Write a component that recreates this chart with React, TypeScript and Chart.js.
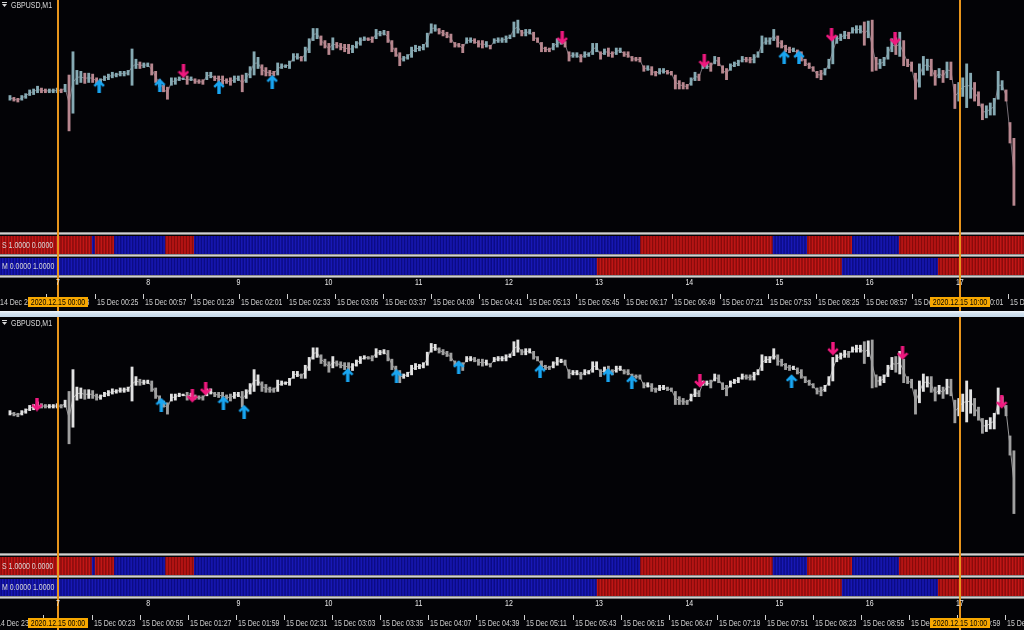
import React, { useEffect, useRef } from 'react';
import { Chart, registerables } from 'chart.js';

Chart.register(...registerables);

// ---------------- data ----------------
const SYMBOL = 'GBPUSD,M1';
const S_LABEL = 'S 1.0000 0.0000';
const M_LABEL = 'M 0.0000 1.0000';

// minutes relative to 2020.12.15 00:00
const VIEW_START = -38.6;
const VIEW_END = 642.7;
const GROUP_START = -37.26; // first aggregated candle
const GROUP_STEP = 2.661; // minutes per drawn candle

const HIGHS = [
  156, 154, 153, 156, 158, 162, 163, 166, 164, 163, 163, 163, 164, 163, 168, 178, 203, 183, 182, 180,
  180, 179, 175, 174, 177, 179, 181, 180, 182, 182, 183, 206, 195, 192, 191, 191, 190, 182, 173, 167,
  165, 175, 175, 176, 175, 177, 176, 174, 173, 173, 181, 181, 177, 177, 177, 174, 175, 177, 177, 178,
  180, 187, 203, 197, 189, 186, 183, 182, 191, 190, 189, 193, 201, 201, 198, 208, 217, 228, 228, 220,
  215, 212, 218, 213, 212, 211, 211, 210, 214, 218, 219, 218, 219, 227, 225, 226, 225, 215, 207, 202,
  198, 200, 208, 210, 209, 211, 223, 233, 232, 228, 226, 224, 222, 213, 212, 211, 218, 218, 217, 215,
  215, 214, 210, 217, 218, 218, 220, 221, 235, 237, 226, 227, 227, 224, 218, 213, 208, 207, 212, 217,
  215, 214, 203, 202, 202, 200, 203, 202, 212, 212, 203, 206, 207, 203, 207, 207, 203, 203, 198, 197,
  197, 188, 188, 187, 182, 185, 185, 183, 182, 178, 172, 170, 168, 175, 181, 179, 190, 190, 191, 198,
  197, 188, 185, 190, 192, 194, 198, 197, 197, 200, 203, 220, 218, 218, 227, 220, 215, 210, 208, 207,
  205, 203, 195, 191, 187, 182, 183, 185, 195, 217, 220, 222, 225, 224, 229, 231, 231, 235, 236, 237,
  197, 195, 197, 208, 217, 218, 224, 215, 195, 192, 180, 190, 198, 195, 195, 183, 185, 183, 192, 192,
  168, 170, 175, 190, 180, 170, 160, 147, 145, 148, 153, 182, 172, 162, 127, 110,
];
const LOWS = [
  151, 150, 149, 151, 153, 156, 157, 159, 159, 159, 159, 159, 159, 159, 160, 118, 137, 168, 170, 169,
  170, 170, 168, 169, 172, 173, 175, 176, 177, 177, 178, 167, 185, 185, 186, 187, 178, 170, 165, 160,
  152, 167, 168, 172, 173, 168, 172, 169, 169, 168, 173, 175, 172, 171, 168, 169, 167, 170, 172, 160,
  170, 175, 178, 185, 178, 177, 177, 177, 178, 185, 186, 185, 193, 195, 193, 193, 202, 215, 217, 210,
  207, 200, 205, 207, 205, 203, 201, 202, 207, 210, 215, 215, 213, 217, 220, 221, 213, 203, 198, 188,
  193, 195, 197, 203, 204, 205, 208, 223, 225, 222, 220, 218, 213, 208, 208, 202, 212, 213, 212, 208,
  207, 208, 206, 212, 213, 213, 213, 217, 219, 223, 220, 220, 222, 215, 213, 203, 203, 203, 205, 208,
  211, 208, 193, 197, 197, 192, 197, 198, 200, 203, 195, 200, 198, 197, 200, 202, 198, 197, 193, 193,
  192, 182, 183, 178, 177, 179, 180, 179, 178, 163, 163, 163, 163, 167, 172, 172, 185, 185, 182, 190,
  188, 180, 173, 183, 187, 188, 192, 192, 191, 191, 197, 202, 211, 211, 215, 208, 207, 203, 202, 203,
  198, 193, 188, 185, 182, 175, 173, 178, 185, 190, 212, 215, 217, 217, 223, 223, 223, 210, 218, 182,
  183, 185, 188, 195, 203, 200, 198, 188, 187, 182, 152, 165, 178, 183, 177, 167, 175, 170, 175, 173,
  142, 150, 155, 143, 153, 150, 145, 130, 132, 135, 135, 152, 162, 150, 105, 38,
];

const HOUR_MARKS = [0, 60, 120, 180, 240, 300, 360, 420, 480, 540, 600];
const HOUR_LABELS = ['7', '8', '9', '10', '11', '12', '13', '14', '15', '16', '17'];

// indicator states: 1 = red, 0 = blue
const S_SEGMENT_STARTS = [-39, 23, 25, 38, 72, 91, 388, 476, 499, 529, 560];
const S_SEGMENT_STATES = [1, 0, 1, 0, 1, 0, 1, 0, 1, 0, 1];
const M_SEGMENT_STARTS = [-39, 359, 522, 586];
const M_SEGMENT_STATES = [0, 1, 0, 1];

const MARKED_TIMES = [0, 600];
const MARKED_LABELS = ['2020.12.15 00:00', '2020.12.15 10:00'];

const TOP_TIME_LABELS = [
  '14 Dec 23:21', '14 Dec 23:53', '15 Dec 00:25', '15 Dec 00:57', '15 Dec 01:29', '15 Dec 02:01',
  '15 Dec 02:33', '15 Dec 03:05', '15 Dec 03:37', '15 Dec 04:09', '15 Dec 04:41', '15 Dec 05:13',
  '15 Dec 05:45', '15 Dec 06:17', '15 Dec 06:49', '15 Dec 07:21', '15 Dec 07:53', '15 Dec 08:25',
  '15 Dec 08:57', '15 Dec 09:29', '15 Dec 10:01', '15 Dec 10:33',
];
const BOTTOM_TIME_LABELS = [
  '14 Dec 23:19', '14 Dec 23:51', '15 Dec 00:23', '15 Dec 00:55', '15 Dec 01:27', '15 Dec 01:59',
  '15 Dec 02:31', '15 Dec 03:03', '15 Dec 03:35', '15 Dec 04:07', '15 Dec 04:39', '15 Dec 05:11',
  '15 Dec 05:43', '15 Dec 06:15', '15 Dec 06:47', '15 Dec 07:19', '15 Dec 07:51', '15 Dec 08:23',
  '15 Dec 08:55', '15 Dec 09:27', '15 Dec 09:59', '15 Dec 10:31',
];

const TOP_UP_TIMES = [23, 64, 104, 140, 486, 496];
const TOP_UP_PRICES = [166, 167, 165, 171, 197, 197];
const TOP_DOWN_TIMES = [80, 336, 432, 518, 561];
const TOP_DOWN_PRICES = [182, 218, 193, 221, 217];
const BOTTOM_UP_TIMES = [65, 107, 121, 191, 224, 266, 321, 367, 383, 491];
const BOTTOM_UP_PRICES = [163, 165, 155, 197, 196, 206, 201, 197, 189, 190];
const BOTTOM_DOWN_TIMES = [-19, 86, 95, 429, 519, 566, 633];
const BOTTOM_DOWN_PRICES = [163, 173, 181, 190, 227, 222, 166];

// ---------------- styling ----------------
const W = 1024;
const BG = '#030306';
const TEXT = '#d8d8d8';
const ORANGE = '#e8951c';
const ORANGE_BOX = '#f8a800';
const FONT = '8.5px "Liberation Sans", Arial, sans-serif';
const NARROW = 0.82;

const TOP_PANEL = {
  y0: 0, height: 311, priceTop: 0, priceH: 232, lower: 232, symbolY: 5,
  yMin: 18, yMax: 250, up: '#86aab3', down: '#b8878f', line: 'rgba(160,150,160,0.75)',
  upTimes: TOP_UP_TIMES, upPrices: TOP_UP_PRICES, downTimes: TOP_DOWN_TIMES, downPrices: TOP_DOWN_PRICES,
  timeLabels: TOP_TIME_LABELS,
};
const BOTTOM_PANEL = {
  y0: 317, height: 313, priceTop: 1, priceH: 235, lower: 236, symbolY: 6,
  yMin: 2, yMax: 253, up: '#e2e2e2', down: '#a0a0a0', line: 'rgba(200,200,200,0.75)',
  upTimes: BOTTOM_UP_TIMES, upPrices: BOTTOM_UP_PRICES, downTimes: BOTTOM_DOWN_TIMES, downPrices: BOTTOM_DOWN_PRICES,
  timeLabels: BOTTOM_TIME_LABELS,
};

function labelMinute(lbl: string) {
  const [d, , hm] = lbl.split(' ');
  const [h, m] = hm.split(':').map(Number);
  return (Number(d) - 15) * 1440 + h * 60 + m;
}

function makeArrow(color: string, up: boolean) {
  const c = document.createElement('canvas');
  c.width = 12;
  c.height = 14;
  const g = c.getContext('2d') as CanvasRenderingContext2D;
  if (!up) {
    g.translate(0, 14);
    g.scale(1, -1);
  }
  g.fillStyle = color;
  g.beginPath();
  g.moveTo(6, 0.3);
  g.lineTo(11.7, 6);
  g.lineTo(9.9, 7.8);
  g.lineTo(7.7, 5.6);
  g.lineTo(7.7, 14);
  g.lineTo(4.3, 14);
  g.lineTo(4.3, 5.6);
  g.lineTo(2.1, 7.8);
  g.lineTo(0.3, 6);
  g.closePath();
  g.fill();
  return c;
}

function baseOptions(yMin: number, yMax: number, plugins: any = {}) {
  return {
    responsive: false,
    maintainAspectRatio: false,
    animation: false,
    events: [],
    layout: { padding: 0 },
    plugins: { legend: { display: false }, tooltip: { enabled: false }, ...plugins },
    scales: {
      x: { type: 'linear', min: VIEW_START, max: VIEW_END, display: false, offset: false, grid: { offset: false } },
      y: { type: 'linear', min: yMin, max: yMax, display: false },
    },
  };
}

function priceConfig(c: any) {
  const mids = HIGHS.map((h, i) => (h + LOWS[i]) / 2);
  const colors = mids.map((m, i) => (i === 0 || m >= mids[i - 1] ? c.up : c.down));
  const upImg = makeArrow('#19a6f2', true);
  const downImg = makeArrow('#f0197f', false);
  const times = HIGHS.map((_, i) => GROUP_START + i * GROUP_STEP);
  return {
    type: 'bar',
    data: {
      datasets: [
        {
          type: 'line',
          data: mids.map((m, i) => ({ x: times[i], y: m })),
          borderColor: c.line,
          borderWidth: 1,
          pointRadius: 0,
          tension: 0,
          order: 4,
        },
        {
          type: 'bar',
          data: HIGHS.map((h, i) => ({ x: times[i], y: [LOWS[i], h] })),
          backgroundColor: colors,
          borderWidth: 0,
          barThickness: 2.2,
          grouped: false,
          order: 3,
        },
        {
          type: 'scatter',
          data: c.upTimes.map((t: number, i: number) => ({ x: t, y: c.upPrices[i] })),
          pointStyle: upImg,
          pointRadius: 7,
          order: 1,
        },
        {
          type: 'scatter',
          data: c.downTimes.map((t: number, i: number) => ({ x: t, y: c.downPrices[i] })),
          pointStyle: downImg,
          pointRadius: 7,
          order: 2,
        },
      ],
    },
    options: baseOptions(c.yMin, c.yMax),
  };
}

function stateAt(starts: number[], states: number[], m: number) {
  let s = states[0];
  for (let i = 0; i < starts.length; i++) if (m >= starts[i]) s = states[i];
  return s;
}

function stripConfig(starts: number[], states: number[]) {
  const minutes: number[] = [];
  for (let m = Math.ceil(VIEW_START); m <= Math.floor(VIEW_END); m++) minutes.push(m);
  const st = minutes.map((m) => stateAt(starts, states, m));
  return {
    type: 'bar',
    data: {
      datasets: [
        {
          data: minutes.map((m) => ({ x: m, y: 1 })),
          backgroundColor: st.map((s) => (s ? '#6e0808' : '#07076e')),
          borderWidth: 0,
          barPercentage: 1,
          categoryPercentage: 1,
          grouped: false,
          order: 2,
        },
        {
          data: minutes.map((m) => ({ x: m, y: 1 })),
          backgroundColor: st.map((s) => (s ? '#d41a1a' : '#1c1cc4')),
          borderWidth: 0,
          barPercentage: 0.55,
          categoryPercentage: 1,
          grouped: false,
          order: 1,
        },
      ],
    },
    options: baseOptions(0, 1),
  };
}

function narrow(ctx: CanvasRenderingContext2D, text: string, x: number, y: number, align: CanvasTextAlign) {
  ctx.save();
  ctx.translate(x, y);
  ctx.scale(NARROW, 1);
  ctx.textAlign = align;
  ctx.textBaseline = 'middle';
  ctx.fillText(text, 0, 0);
  ctx.restore();
}

function overlayConfig(c: any) {
  const plugin = {
    id: 'mtOverlay',
    afterDraw(chart: any) {
      const ctx = chart.ctx as CanvasRenderingContext2D;
      const xs = chart.scales.x;
      const L = c.lower;
      ctx.save();
      ctx.font = FONT;
      ctx.fillStyle = TEXT;
      // symbol
      const sy = c.symbolY;
      ctx.fillRect(2, sy - 3, 5, 1);
      ctx.beginPath();
      ctx.moveTo(2, sy - 1);
      ctx.lineTo(7, sy - 1);
      ctx.lineTo(4.5, sy + 2);
      ctx.closePath();
      ctx.fill();
      narrow(ctx, SYMBOL, 11, sy + 0.5, 'left');
      // indicator names
      narrow(ctx, S_LABEL, 2, L + 13.5, 'left');
      narrow(ctx, M_LABEL, 2, L + 35, 'left');
      // time scale
      ctx.fillStyle = '#cfcfcf';
      c.timeLabels.forEach((lbl: string) => {
        const px = Math.round(xs.getPixelForValue(labelMinute(lbl)));
        ctx.fillRect(px - 1, L + 62, 1, 5);
        narrow(ctx, lbl, px + 1, L + 70.5, 'left');
      });
      // marked vertical lines
      ctx.fillStyle = ORANGE;
      MARKED_TIMES.forEach((m) => {
        const px = xs.getPixelForValue(m);
        ctx.fillRect(Math.round(px) - 1, 0, 2, c.height);
      });
      // hour numbers
      ctx.fillStyle = '#e8e8e8';
      HOUR_MARKS.forEach((m, i) => narrow(ctx, HOUR_LABELS[i], xs.getPixelForValue(m), L + 50.5, 'center'));
      MARKED_TIMES.forEach((m, i) => {
        const px = xs.getPixelForValue(m);
        ctx.fillStyle = ORANGE_BOX;
        ctx.fillRect(Math.round(px) - 30, L + 65, 60, 10);
        ctx.fillStyle = '#000';
        narrow(ctx, MARKED_LABELS[i], Math.round(px), L + 70.5, 'center');
      });
      ctx.restore();
    },
  };
  return {
    type: 'scatter',
    data: { datasets: [] },
    options: baseOptions(0, 1),
    plugins: [plugin],
  };
}

// ---------------- components ----------------
function ChartCanvas({ top, height, build }: { top: number; height: number; build: () => any }) {
  const ref = useRef<HTMLCanvasElement | null>(null);
  useEffect(() => {
    const chart = new Chart(ref.current as HTMLCanvasElement, build());
    return () => chart.destroy();
  }, []);
  return (
    <canvas
      ref={ref}
      width={W}
      height={height}
      style={{ position: 'absolute', left: 0, top, width: W, height, display: 'block' }}
    />
  );
}

function Sep({ top }: { top: number }) {
  return (
    <div
      style={{
        position: 'absolute',
        left: 0,
        top,
        width: W,
        height: 3,
        background: 'linear-gradient(#8e8e8e 0, #8e8e8e 1px, #d2d2d2 1px, #d2d2d2 2px, #7c7c7c 2px)',
      }}
    />
  );
}

function Panel({ c }: { c: any }) {
  const L = c.y0 + c.lower;
  return (
    <>
      <ChartCanvas top={c.y0 + c.priceTop} height={c.priceH} build={() => priceConfig(c)} />
      <Sep top={L} />
      <ChartCanvas top={L + 4} height={18} build={() => stripConfig(S_SEGMENT_STARTS, S_SEGMENT_STATES)} />
      <Sep top={L + 22} />
      <ChartCanvas top={L + 26} height={17} build={() => stripConfig(M_SEGMENT_STARTS, M_SEGMENT_STATES)} />
      <Sep top={L + 43} />
      <ChartCanvas top={c.y0} height={c.height} build={() => overlayConfig(c)} />
    </>
  );
}

export default function App() {
  useEffect(() => {
    document.body.style.margin = '0';
    document.body.style.background = BG;
  }, []);
  return (
    <div style={{ position: 'fixed', left: 0, top: 0, width: W, height: 630, background: BG, overflow: 'hidden' }}>
      <Panel c={TOP_PANEL} />
      <div
        style={{
          position: 'absolute',
          left: 0,
          top: 311,
          width: W,
          height: 6,
          background: 'linear-gradient(#f2f7fc, #d4e3f0 40%, #c4d8ea)',
        }}
      />
      <Panel c={BOTTOM_PANEL} />
    </div>
  );
}
